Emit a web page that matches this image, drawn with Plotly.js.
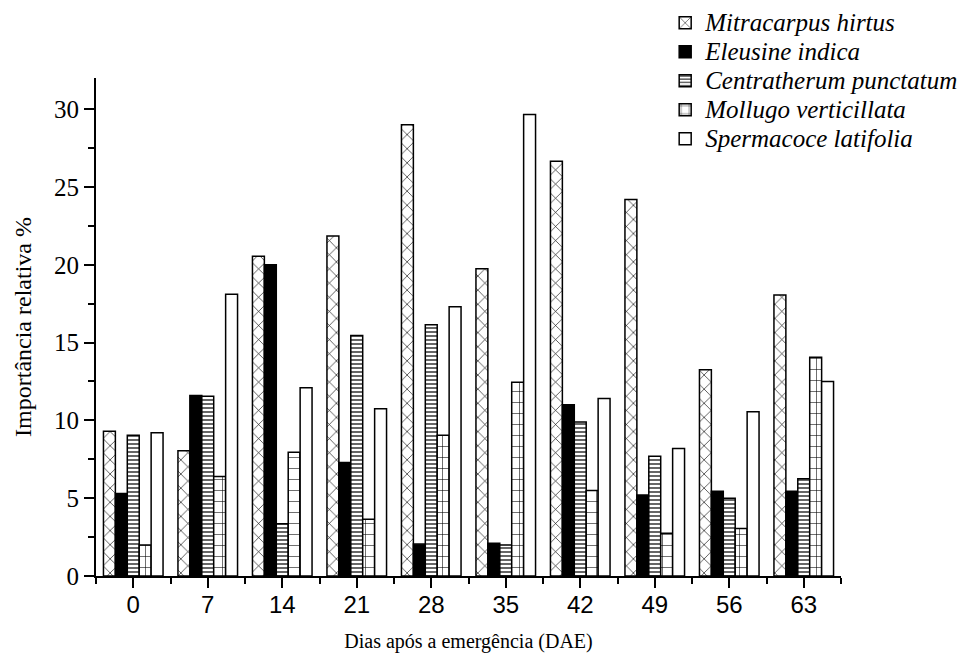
<!DOCTYPE html>
<html>
<head>
<meta charset="utf-8">
<script src="https://cdn.plot.ly/plotly-3.0.1.min.js"></script>
<style>
html,body{margin:0;padding:0;background:#fff;}
</style>
</head>
<body>
<div id="chart" style="width:976px;height:659px"></div>
<script>
// Days after emergence (DAE)
var days = [0, 7, 14, 21, 28, 35, 42, 49, 56, 63];
var dayLabels = ["0", "7", "14", "21", "28", "35", "42", "49", "56", "63"];

// Relative importance (%) per species
var mitracarpus  = [9.3, 8.05, 20.55, 21.85, 29.0, 19.75, 26.65, 24.2, 13.25, 18.05];
var eleusine     = [5.3, 11.6, 20.0, 7.3, 2.05, 2.1, 11.0, 5.2, 5.45, 5.45];
var centratherum = [9.05, 11.55, 3.35, 15.45, 16.15, 2.0, 9.9, 7.7, 5.0, 6.25];
var mollugo      = [2.0, 6.4, 7.95, 3.65, 9.05, 12.45, 5.5, 2.75, 3.05, 14.05];
var spermacoce   = [9.2, 18.1, 12.1, 10.75, 17.3, 29.65, 11.4, 8.2, 10.55, 12.5];

var names = ["Mitracarpus hirtus", "Eleusine indica", "Centratherum punctatum", "Mollugo verticillata", "Spermacoce latifolia"];
var series = [mitracarpus, eleusine, centratherum, mollugo, spermacoce];

var patterns = [
  {shape: "x", size: 10, solidity: 0.12, fgcolor: "#000", bgcolor: "#fff"},
  null,
  {shape: "-", size: 4, solidity: 0.3, fgcolor: "#000", bgcolor: "#fff"},
  {shape: "+", size: 11, solidity: 0.1, fgcolor: "#000", bgcolor: "#fff"},
  null
];
var fills = ["#fff", "#000", "#fff", "#fff", "#fff"];

var traces = series.map(function (vals, i) {
  var m = {color: fills[i], line: {color: "#000", width: 1.5}};
  if (patterns[i]) m.pattern = patterns[i];
  return {
    type: "bar",
    name: "<span style=\"font-size:25px\"><i>" + names[i] + "</i></span>",
    x: days,
    y: vals,
    marker: m
  };
});

var layout = {
  width: 976,
  height: 659,
  font: {family: "Liberation Serif", color: "#000"},
  paper_bgcolor: "#fff",
  plot_bgcolor: "#fff",
  margin: {l: 96, r: 135, t: 78, b: 83, autoexpand: false},
  barmode: "group",
  bargap: 0.2,
  bargroupgap: 0,
  showlegend: true,
  legend: {
    x: 0.764, xanchor: "left",
    y: 1.15, yanchor: "top",
    font: {family: "Liberation Serif", size: 20, color: "#000"},
    bgcolor: "rgba(0,0,0,0)",
    tracegroupgap: 0,
    itemwidth: 30
  },
  xaxis: {
    range: [-3.5, 66.5],
    tickmode: "array",
    tickvals: days,
    ticktext: dayLabels,
    ticks: "outside",
    ticklen: 10,
    tickwidth: 2,
    tickcolor: "#000",
    showline: true,
    linecolor: "#000",
    linewidth: 2,
    showgrid: false,
    zeroline: false,
    tickfont: {family: "Liberation Sans", size: 24, color: "#000"},
    ticklabelstandoff: -4,
    minor: {tickmode: "array", tickvals: [-3.5, 3.5, 10.5, 17.5, 24.5, 31.5, 38.5, 45.5, 52.5, 59.5, 66.5], ticks: "outside", ticklen: 6, tickwidth: 2, tickcolor: "#000", showgrid: false},
    title: {text: "Dias após a emergência (DAE)", font: {family: "Liberation Serif", size: 20, color: "#000"}, standoff: 17}
  },
  yaxis: {
    range: [0, 32],
    tick0: 0,
    dtick: 5,
    ticks: "outside",
    ticklen: 10,
    tickwidth: 2,
    tickcolor: "#000",
    showline: true,
    linecolor: "#000",
    linewidth: 2,
    showgrid: false,
    zeroline: false,
    tickfont: {family: "Liberation Serif", size: 25, color: "#000"},
    minor: {dtick: 2.5, ticks: "outside", ticklen: 6, tickwidth: 2, tickcolor: "#000", showgrid: false},
    title: {text: "Importância relativa %", font: {family: "Liberation Serif", size: 24, color: "#000"}, standoff: 16}
  }
};

Plotly.newPlot("chart", traces, layout, {displayModeBar: false, staticPlot: true});
</script>
</body>
</html>
